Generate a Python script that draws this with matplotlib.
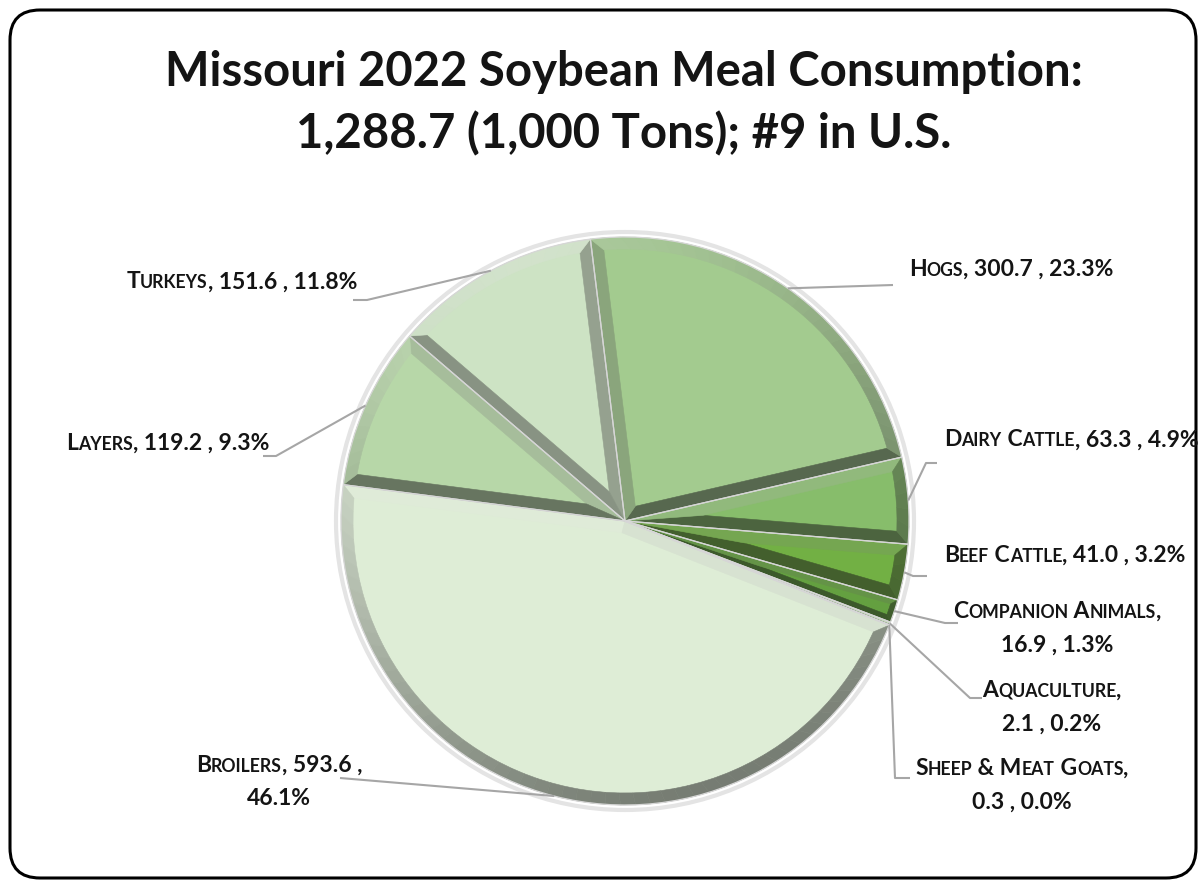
import numpy as np
import matplotlib
matplotlib.use("Agg")
import matplotlib.pyplot as plt
from matplotlib.patches import Wedge, FancyBboxPatch, Circle, Polygon
from matplotlib.colors import to_rgb
from matplotlib.offsetbox import TextArea, HPacker, VPacker, AnnotationBbox

# Data (1,000 tons and share of total)
categories = ["Hogs", "Dairy Cattle", "Beef Cattle", "Companion Animals", "Aquaculture",
              "Sheep & Meat Goats", "Broilers", "Layers", "Turkeys"]
tons = [300.7, 63.3, 41.0, 16.9, 2.1, 0.3, 593.6, 119.2, 151.6]
shares = [23.3, 4.9, 3.2, 1.3, 0.2, 0.0, 46.1, 9.3, 11.8]
title = "Missouri 2022 Soybean Meal Consumption:\n1,288.7 (1,000 Tons); #9 in U.S."

# Styling
face_colors = ["#a3cb8f", "#87bd6b", "#72b044", "#64a040", "#c9dfbf", "#c9dfbf",
               "#deedd6", "#b7d7a8", "#cde3c4"]
FONT = ["Lato", "DejaVu Sans"]
TXT = "#141414"
W, H = 1201, 882
CX, CY, R = 625, 521, 284
BEVEL = 12
LIGHT = np.array([-0.35, 0.94]) / np.hypot(-0.35, 0.94)

# label layout: anchor (image px), box alignment, leader points after the arc
layout = [
    dict(xy=(909, 269), align=(0, 0.5), lines=1, path=[(893, 285)]),
    dict(xy=(944, 440), align=(0, 0.5), lines=1, path=[(926, 463), (937, 463)]),
    dict(xy=(944, 555), align=(0, 0.5), lines=1, path=[(913, 576), (927, 576)]),
    dict(xy=(1057, 628), align=(0.5, 0.5), lines=2, path=[(945, 623), (958, 623)]),
    dict(xy=(1052, 707), align=(0.5, 0.5), lines=2, path=[(970, 698), (982, 698)]),
    dict(xy=(1022, 785), align=(0.5, 0.5), lines=2, path=[(895, 778), (910, 778)]),
    dict(xy=(279, 782), align=(0.5, 0.5), lines=2, path=[(340, 778)]),
    dict(xy=(269, 443), align=(1, 0.5), lines=1, path=[(276, 456), (263, 456)]),
    dict(xy=(357, 282), align=(1, 0.5), lines=1, path=[(367, 300), (353, 300)]),
]


def Y(y):
    return H - y


def e(a):
    return np.array([np.cos(a), np.sin(a)])


def shade(color, normal_angle):
    c = np.array(to_rgb(color))
    f = 0.78 + 0.25 * float(np.dot(e(normal_angle), LIGHT))
    out = c * f if f < 1 else c + (1 - c) * (f - 1) * 2.5
    grey = out.mean()
    return tuple(np.clip(0.8 * out + 0.2 * grey, 0, 1))


def bevel(ax, w, face):
    c = np.array(w.center)
    r = w.r
    t1, t2 = np.deg2rad(w.theta1), np.deg2rad(w.theta2)
    alpha = (t2 - t1) / 2
    if alpha <= 0:
        return
    d = min(BEVEL, 0.5 * r * np.sin(alpha))
    ri = r - d
    apex = c + d / np.sin(alpha) * e((t1 + t2) / 2)
    tl = np.sqrt(ri ** 2 - d ** 2)
    p1 = c + d * e(t1 + np.pi / 2) + tl * e(t1)
    p2 = c + d * e(t2 - np.pi / 2) + tl * e(t2)
    a1, a2 = t1 + np.arcsin(d / ri), t2 - np.arcsin(d / ri)
    quads = [([c, c + r * e(t1), p1, apex], t1 - np.pi / 2),
             ([c, apex, p2, c + r * e(t2)], t2 + np.pi / 2)]
    n = max(2, int(np.rad2deg(t2 - t1) / 3))
    outer = np.linspace(t1, t2, n + 1)
    inner = np.linspace(a1, a2, n + 1)
    for i in range(n):
        pts = [c + r * e(outer[i]), c + r * e(outer[i + 1]),
               c + ri * e(inner[i + 1]), c + ri * e(inner[i])]
        quads.append((pts, (outer[i] + outer[i + 1]) / 2))
    for pts, na in quads:
        col = shade(face, na)
        ax.add_patch(Polygon(pts, closed=True, fc=col, ec=col, lw=0.4, zorder=3))


def smallcaps(text, size):
    runs = []
    for ch in text:
        small = ch.islower()
        if runs and runs[-1][1] == small:
            runs[-1][0] += ch.upper()
        else:
            runs.append([ch.upper(), small])
    kids = [TextArea(s, textprops=dict(fontsize=size * 0.77 if sm else size,
                                       fontweight="bold", family=FONT, color=TXT))
            for s, sm in runs]
    return HPacker(children=kids, align="baseline", pad=0, sep=0)


fig = plt.figure(figsize=(W / 100, H / 100), dpi=100)
ax = fig.add_axes([0, 0, 1, 1])

# outer rounded frame
ax.add_patch(FancyBboxPatch((10, Y(878)), 1186, 868, boxstyle="round,pad=0,rounding_size=30",
                            fc="white", ec="black", lw=2.2, zorder=0))

# soft shadow ring round the pie
ax.add_patch(Circle((CX, Y(CY)), R + 5, fill=False, ec="#e4e4e4", lw=3, zorder=1))

wedges, _ = ax.pie(tons, colors=face_colors, startangle=97, counterclock=False,
                   center=(CX, Y(CY)), radius=R, explode=[0.011] * len(tons),
                   wedgeprops=dict(lw=0), frame=True)
ax.set_xlim(0, W)
ax.set_ylim(0, H)
ax.set_aspect("equal")
ax.axis("off")

for w, face in zip(wedges, face_colors):
    w.set_zorder(2)
    bevel(ax, w, face)
    ax.add_patch(Wedge(w.center, w.r, w.theta1, w.theta2, fill=False, ec="#d6d6d6",
                       lw=0.9, zorder=4))

# labels + leader lines
for w, cat, t, s, lay in zip(wedges, categories, tons, shares, layout):
    mid = np.deg2rad((w.theta1 + w.theta2) / 2)
    sx, sy = np.array(w.center) + w.r * e(mid)
    xs = [sx] + [p[0] for p in lay["path"]]
    ys = [sy] + [Y(p[1]) for p in lay["path"]]
    ax.plot(xs, ys, color="#a6a6a6", lw=1.5, zorder=5, solid_capstyle="butt")

    size = 16.5
    if lay["lines"] == 1:
        box = smallcaps(f"{cat}, {t:.1f} , {s:.1f}%", size)
    elif cat == "Broilers":
        box = VPacker(children=[smallcaps(f"{cat}, {t:.1f} ,", size),
                                smallcaps(f"{s:.1f}%", size)], align="center", pad=0, sep=9)
    else:
        box = VPacker(children=[smallcaps(f"{cat},", size),
                                smallcaps(f"{t:.1f} , {s:.1f}%", size)], align="center", pad=0, sep=9)
    ab = AnnotationBbox(box, (lay["xy"][0], Y(lay["xy"][1])), xycoords="data",
                        box_alignment=lay["align"], frameon=False, pad=0, zorder=6)
    ax.add_artist(ab)

fig.text(624 / W, Y(103) / H, title, ha="center", va="center", fontsize=34,
         fontweight="bold", family=FONT, color=TXT, linespacing=1.45)

plt.savefig("out.png", dpi=100)
